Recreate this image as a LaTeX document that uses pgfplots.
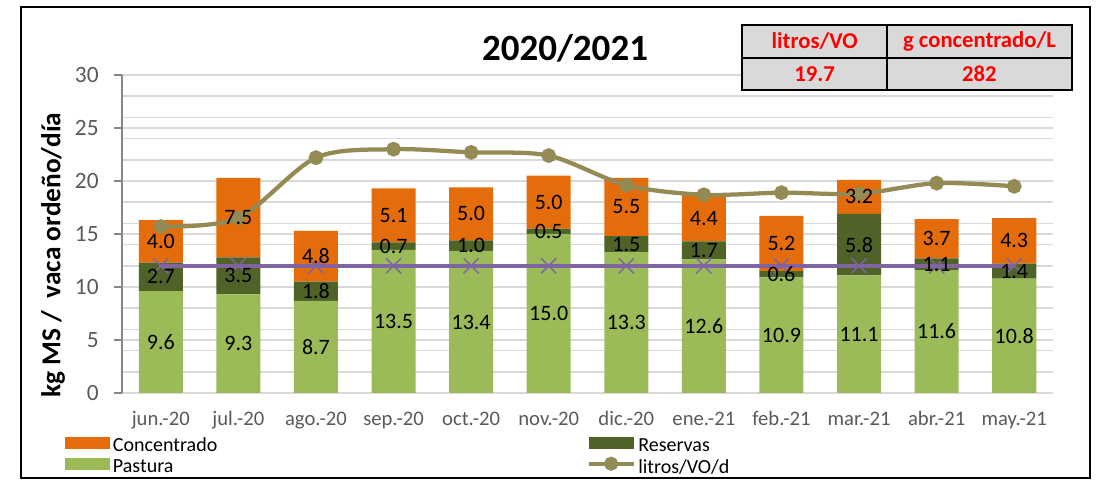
\documentclass[border=0pt]{standalone}
\usepackage{pgfplots}
\pgfplotsset{compat=1.18}
\usepackage{pgfplotstable}
\usepackage{fontspec}
\setmainfont{Carlito}
\definecolor{conc}{HTML}{E46C0A}
\definecolor{res}{HTML}{4F6228}
\definecolor{pas}{HTML}{9BBB59}
\definecolor{oliv}{HTML}{948A54}
\definecolor{purp}{HTML}{8064A2}
\definecolor{gridc}{HTML}{D9D9D9}
\definecolor{tickc}{HTML}{595959}
\definecolor{axc}{HTML}{868686}
\definecolor{cellc}{HTML}{D9D9D9}
\definecolor{redt}{HTML}{FF0000}
\pgfplotsset{
  /pgf/number format/assume math mode=true,
  widebar legend/.style={legend image code/.code={\fill[##1] (0pt,-2.5pt) rectangle (33.75pt,6.5pt);}},
  wideline legend/.style={legend image code/.code={\draw[mark repeat=2,mark phase=2,##1] plot coordinates {(0pt,2.5pt) (16.9pt,2.5pt) (33.75pt,2.5pt)};}},
  lbl/.style={only marks, mark=*, mark size=0pt, mark options={draw=none,fill=none}, forget plot,
    point meta=explicit, nodes near coords={\pgfmathprintnumber[fixed,fixed zerofill,precision=1]{\pgfplotspointmeta}},
    every node near coord/.append style={anchor=center, text=black, font=\fontsize{16.5}{18}\selectfont, inner sep=0pt}},
}
\pgfplotstableread{
x pastura reservas concentrado litros ref
0 9.6 2.7 4.0 15.7 12
1 9.3 3.5 7.5 16.5 12
2 8.7 1.8 4.8 22.2 12
3 13.5 0.7 5.1 23.0 12
4 13.4 1.0 5.0 22.7 12
5 15.0 0.5 5.0 22.4 12
6 13.3 1.5 5.5 19.6 12
7 12.6 1.7 4.4 18.7 12
8 10.9 0.6 5.2 18.9 12
9 11.1 5.8 3.2 18.8 12
10 11.6 1.1 3.7 19.8 12
11 10.8 1.4 4.3 19.5 12
}\datatable
\begin{document}
\begin{tikzpicture}
\useasboundingbox (0,0) rectangle (825pt,361.5pt);
\draw[line width=1.2pt] (15.75pt,3pt) rectangle (817.5pt,356.25pt);
\begin{axis}[
  at={(91.5pt,66.75pt)}, anchor=south west,
  width=698.25pt, height=238.5pt, scale only axis,
  xmin=-0.5, xmax=11.5, ymin=0, ymax=30,
  ybar stacked, bar width=0.568,
  xtick={0,...,11},
  xticklabels={jun.-20,jul.-20,ago.-20,sep.-20,oct.-20,nov.-20,dic.-20,ene.-21,feb.-21,mar.-21,abr.-21,may.-21},
  ytick={0,5,...,30},
  minor ytick={2,4,...,28},
  ymajorgrids, yminorgrids,
  major grid style={gridc, line width=1.1pt},
  minor grid style={gridc, line width=1.1pt},
  axis x line*=bottom, axis y line*=left,
  x axis line style={gridc, line width=1.5pt},
  y axis line style={axc, line width=1.5pt},
  xtick style={draw=none},
  ytick style={axc, line width=1.1pt},
  minor tick length=0pt, major tick length=6pt, tick align=outside,
  xticklabel style={font=\fontsize{15.5}{18}\selectfont, text=tickc, anchor=base, yshift=-18.5pt},
  yticklabel style={font=\fontsize{17.5}{20}\selectfont, text=tickc, anchor=east, xshift=-8pt},
]
\addplot[fill=pas, draw=none] table[x=x,y=pastura]{\datatable};
\addplot[fill=res, draw=none] table[x=x,y=reservas]{\datatable};
\addplot[fill=conc, draw=none] table[x=x,y=concentrado]{\datatable};
\end{axis}
\begin{axis}[
  at={(91.5pt,66.75pt)}, anchor=south west,
  width=698.25pt, height=238.5pt, scale only axis,
  xmin=-0.5, xmax=11.5, ymin=0, ymax=30,
  hide axis, clip=false,
  legend columns=2,
  legend cell align=left,
  legend style={at={(-0.0612,-0.132)}, anchor=north west, draw=none, fill=none, inner sep=0pt,
    font=\fontsize{15}{18}\selectfont, row sep=0pt,
    /tikz/every even column/.append style={column sep=275pt}},
]
\addplot[purp, line width=3pt, mark=x, mark size=8pt, mark options={line width=1.1pt}, forget plot] table[x=x,y=ref]{\datatable};
\addplot[oliv, line width=3.2pt, smooth, mark=*, mark size=3.9pt, forget plot] table[x=x,y=litros]{\datatable};
\addplot[lbl] table[x=x, y expr=\thisrow{pastura}/2, meta=pastura]{\datatable};
\addplot[lbl] table[x=x, y expr=\thisrow{pastura}+\thisrow{reservas}/2, meta=reservas]{\datatable};
\addplot[lbl] table[x=x, y expr=\thisrow{pastura}+\thisrow{reservas}+\thisrow{concentrado}/2, meta=concentrado]{\datatable};
\addlegendimage{widebar legend, fill=conc, draw=none}
\addlegendentry{Concentrado}
\addlegendimage{widebar legend, fill=res, draw=none}
\addlegendentry{Reservas}
\addlegendimage{widebar legend, fill=pas, draw=none}
\addlegendentry{Pastura}
\addlegendimage{wideline legend, oliv, line width=3pt, mark=*, mark size=3.75pt}
\addlegendentry{litros/VO/d}
\end{axis}
\node[rotate=90, font=\bfseries\fontsize{20.5}{22}\selectfont] at (39.75pt,170.25pt) {kg MS /\ \ vaca ordeño/día};
\node[font=\bfseries\fontsize{27.75}{30}\selectfont] at (423.75pt,325.5pt) {2020/2021};
\fill[cellc] (556.5pt,294pt) rectangle (804pt,342.75pt);
\draw[line width=1.5pt] (556.5pt,294pt) rectangle (804pt,342.75pt);
\draw[line width=1.5pt] (665.25pt,294pt) -- (665.25pt,342.75pt);
\draw[line width=1.5pt] (556.5pt,318pt) -- (804pt,318pt);
\node[font=\bfseries\fontsize{17}{18}\selectfont, text=redt] at (610.9pt,330.4pt) {litros/VO};
\node[font=\bfseries\fontsize{17}{18}\selectfont, text=redt] at (734.6pt,330.4pt) {g concentrado/L};
\node[font=\bfseries\fontsize{17}{18}\selectfont, text=redt] at (610.9pt,306pt) {19.7};
\node[font=\bfseries\fontsize{17}{18}\selectfont, text=redt] at (734.6pt,306pt) {282};
\end{tikzpicture}
\end{document}
